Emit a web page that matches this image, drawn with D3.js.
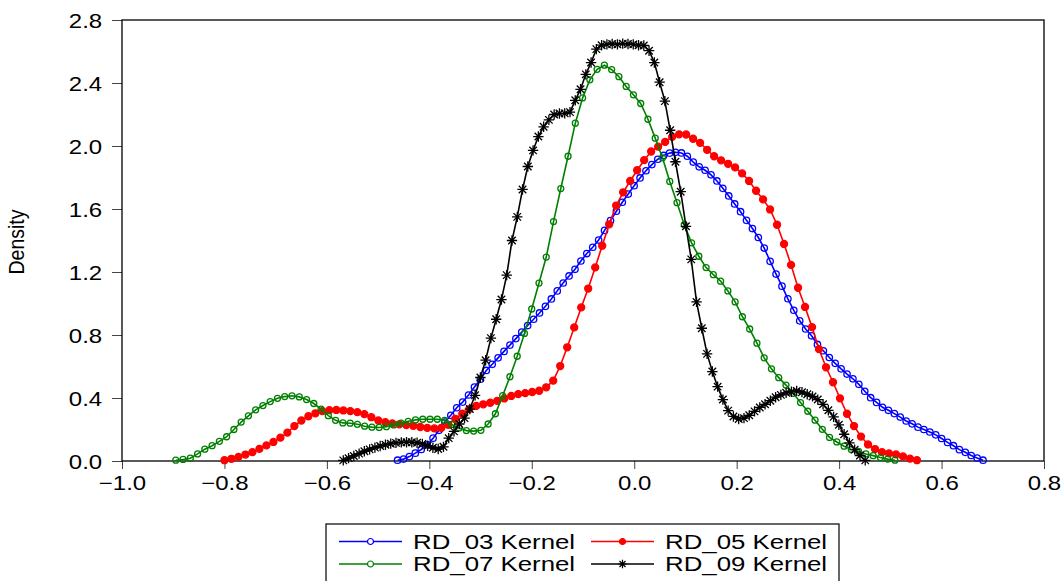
<!DOCTYPE html>
<meta charset="utf-8">
<head>
<style>
  body { margin: 0; background: #fff; }
  svg { display: block; font-family: "Liberation Sans", Arial, sans-serif; }
  .axis path { display: none; }
  .axis line { stroke: #444; }
  .axis text { font-size: 20px; fill: #000; }
  .legend text { font-size: 20.5px; fill: #000; }
</style>
<script src="https://d3js.org/d3.v7.min.js"></script>
</head>
<body>
<svg width="1063" height="581"></svg>
<script>
// kernel density estimates, 100 evaluation points each
var rd03Range = [-0.462, 0.681];
var rd03 = [0.005,0.012,0.028,0.050,0.073,0.102,0.145,0.195,0.247,0.290,
            0.338,0.374,0.419,0.470,0.519,0.575,0.614,0.655,0.696,0.736,
            0.777,0.818,0.860,0.900,0.940,0.982,1.029,1.080,1.130,1.175,
            1.217,1.270,1.317,1.357,1.403,1.464,1.526,1.586,1.643,1.695,
            1.748,1.797,1.843,1.882,1.916,1.940,1.955,1.960,1.956,1.935,
            1.898,1.868,1.846,1.817,1.778,1.731,1.683,1.632,1.583,1.528,
            1.476,1.419,1.352,1.268,1.187,1.110,1.030,0.957,0.890,0.838,
            0.795,0.740,0.700,0.657,0.620,0.585,0.552,0.522,0.487,0.443,
            0.402,0.372,0.341,0.322,0.301,0.279,0.254,0.236,0.215,0.200,
            0.184,0.166,0.143,0.118,0.097,0.072,0.055,0.035,0.019,0.005];

var rd05Range = [-0.800, 0.552];
var rd05 = [0.005,0.014,0.026,0.041,0.056,0.077,0.099,0.121,0.148,0.180,
            0.222,0.257,0.284,0.303,0.317,0.323,0.324,0.321,0.317,0.310,
            0.298,0.278,0.257,0.246,0.238,0.233,0.228,0.223,0.216,0.210,
            0.207,0.210,0.230,0.268,0.300,0.330,0.350,0.360,0.370,0.382,
            0.397,0.413,0.425,0.431,0.438,0.446,0.468,0.510,0.603,0.722,
            0.848,0.975,1.095,1.229,1.367,1.503,1.622,1.706,1.778,1.846,
            1.910,1.965,1.996,2.026,2.058,2.074,2.073,2.046,2.020,1.976,
            1.935,1.909,1.887,1.864,1.826,1.778,1.716,1.661,1.597,1.500,
            1.378,1.245,1.100,0.978,0.850,0.710,0.595,0.500,0.398,0.300,
            0.222,0.155,0.105,0.076,0.056,0.048,0.042,0.029,0.015,0.005];

var rd07Range = [-0.895, 0.509];
var rd07 = [0.005,0.010,0.018,0.045,0.075,0.097,0.125,0.154,0.200,0.247,
            0.287,0.325,0.352,0.377,0.398,0.409,0.414,0.407,0.390,0.365,
            0.330,0.288,0.258,0.242,0.240,0.233,0.221,0.215,0.213,0.218,
            0.229,0.241,0.252,0.261,0.265,0.265,0.265,0.258,0.232,0.210,
            0.193,0.190,0.195,0.235,0.300,0.415,0.535,0.665,0.810,0.965,
            1.130,1.295,1.520,1.730,1.935,2.145,2.305,2.420,2.487,2.513,
            2.485,2.440,2.378,2.325,2.270,2.170,2.050,1.925,1.775,1.640,
            1.500,1.385,1.300,1.228,1.183,1.142,1.080,1.010,0.916,0.838,
            0.748,0.655,0.585,0.529,0.482,0.430,0.371,0.316,0.259,0.201,
            0.150,0.121,0.094,0.073,0.061,0.045,0.034,0.022,0.012,0.005];

var rd09Range = [-0.568, 0.451];
var rd09 = [0.004,0.018,0.032,0.047,0.062,0.074,0.085,0.095,0.103,0.110,
            0.115,0.118,0.119,0.119,0.116,0.109,0.097,0.084,0.076,0.090,
            0.145,0.188,0.235,0.272,0.330,0.417,0.530,0.640,0.780,0.900,
            1.025,1.180,1.400,1.550,1.724,1.870,1.972,2.060,2.122,2.166,
            2.200,2.206,2.207,2.215,2.290,2.360,2.455,2.530,2.615,2.640,
            2.645,2.648,2.645,2.650,2.648,2.645,2.640,2.638,2.605,2.530,
            2.405,2.285,2.100,1.900,1.710,1.490,1.280,1.010,0.843,0.680,
            0.568,0.472,0.390,0.320,0.283,0.267,0.272,0.290,0.315,0.340,
            0.360,0.383,0.405,0.420,0.433,0.440,0.445,0.437,0.424,0.410,
            0.390,0.360,0.322,0.280,0.230,0.170,0.115,0.072,0.035,0.004];

var seriesNames = ["RD_03 Kernel", "RD_05 Kernel", "RD_07 Kernel", "RD_09 Kernel"];
var seriesColors = ["#0000ff", "#ff0000", "#008000", "#000000"];
var xTicks = [-1.0, -0.8, -0.6, -0.4, -0.2, 0.0, 0.2, 0.4, 0.6, 0.8];
var yTicks = [0.0, 0.4, 0.8, 1.2, 1.6, 2.0, 2.4, 2.8];

var sx = 1.2; // text in the original is drawn wide

var svg = d3.select("svg");
var plot = {left: 122, right: 1044, top: 20, bottom: 461};

var x = d3.scaleLinear().domain([-1.0, 0.8]).range([plot.left, plot.right]);
var y = d3.scaleLinear().domain([0, 2.8]).range([plot.bottom, plot.top]);

function grid(range, vals) {
    var step = (range[1] - range[0]) / (vals.length - 1);
    return vals.map(function(v, i) { return [range[0] + i * step, v]; });
}

var series = [
    {name: seriesNames[0], color: seriesColors[0], marker: "open",   r: 3.2, pts: grid(rd03Range, rd03)},
    {name: seriesNames[1], color: seriesColors[1], marker: "filled", r: 3.5, pts: grid(rd05Range, rd05)},
    {name: seriesNames[2], color: seriesColors[2], marker: "open",   r: 3.0, pts: grid(rd07Range, rd07)},
    {name: seriesNames[3], color: seriesColors[3], marker: "star",   r: 5.2, pts: grid(rd09Range, rd09)}
];

// axes
var yAxis = svg.append("g")
    .attr("class", "axis")
    .attr("transform", "translate(" + plot.left + ",0)")
    .call(d3.axisLeft(y).tickValues(yTicks).tickSize(10).tickPadding(6.5)
        .tickFormat(d3.format(".1f")));
yAxis.selectAll("text")
    .attr("transform", "scale(" + sx + ",1)")
    .attr("dy", "0.36em");

var xAxis = svg.append("g")
    .attr("class", "axis")
    .attr("transform", "translate(0," + plot.bottom + ")")
    .call(d3.axisBottom(x).tickValues(xTicks).tickSize(8).tickPadding(7)
        .tickFormat(d3.format(".1f")));
xAxis.selectAll("text")
    .attr("transform", "scale(" + sx + ",1)");

// frame
svg.append("rect")
    .attr("x", plot.left)
    .attr("y", plot.top)
    .attr("width", plot.right - plot.left)
    .attr("height", plot.bottom - plot.top)
    .attr("fill", "none")
    .attr("stroke", "#000")
    .attr("stroke-width", 1.3);

svg.append("text")
    .attr("transform", "translate(24,242) rotate(-90) scale(1,1.1)")
    .attr("text-anchor", "middle")
    .style("font-size", "19.5px")
    .text("Density");

var line = d3.line()
    .x(function(d) { return x(d[0]); })
    .y(function(d) { return y(d[1]); });

var starPath = function(r) {
    var a = r * 0.72;
    return "M0," + (-r) + "V" + r + "M" + (-r) + ",0H" + r +
        "M" + (-a) + "," + (-a) + "L" + a + "," + a +
        "M" + (-a) + "," + a + "L" + a + "," + (-a);
};

function drawMarkers(g, s, pts) {
    if (s.marker == "star") {
        g.selectAll("path.m")
            .data(pts)
            .enter().append("path")
            .attr("class", "m")
            .attr("transform", function(d) { return "translate(" + x(d[0]) + "," + y(d[1]) + ")"; })
            .attr("d", starPath(s.r))
            .attr("stroke", s.color)
            .attr("stroke-width", 1.3)
            .attr("fill", "none");
    } else {
        g.selectAll("circle")
            .data(pts)
            .enter().append("circle")
            .attr("cx", function(d) { return x(d[0]); })
            .attr("cy", function(d) { return y(d[1]); })
            .attr("r", s.r)
            .attr("fill", s.marker == "filled" ? s.color : "none")
            .attr("stroke", s.color)
            .attr("stroke-width", 1.3);
    }
}

series.forEach(function(s) {
    var g = svg.append("g");
    g.append("path")
        .datum(s.pts)
        .attr("d", line)
        .attr("fill", "none")
        .attr("stroke", s.color)
        .attr("stroke-width", 1.6);
    drawMarkers(g, s, s.pts);
});

// legend
var legend = svg.append("g").attr("class", "legend");
legend.append("rect")
    .attr("x", 326)
    .attr("y", 524)
    .attr("width", 513)
    .attr("height", 70)
    .attr("fill", "none")
    .attr("stroke", "#000")
    .attr("stroke-width", 1.2);

var legendPos = [[339, 541.5], [591, 541.5], [339, 564], [591, 564]];
series.forEach(function(s, i) {
    var p = legendPos[i];
    var item = legend.append("g").attr("transform", "translate(" + p[0] + "," + p[1] + ")");
    item.append("line")
        .attr("x1", 0).attr("x2", 63)
        .attr("stroke", s.color)
        .attr("stroke-width", 1.6);
    var mg = item.append("g").attr("transform", "translate(31.5,0)");
    if (s.marker == "star") {
        mg.append("path").attr("d", starPath(4.2)).attr("stroke", s.color)
            .attr("stroke-width", 1.2).attr("fill", "none");
    } else {
        mg.append("circle").attr("r", 3)
            .attr("fill", s.marker == "filled" ? s.color : "#fff")
            .attr("stroke", s.color).attr("stroke-width", 1.2);
    }
    item.append("text")
        .attr("transform", "translate(74,0) scale(1.26,1)")
        .attr("dy", "0.36em")
        .text(s.name);
});
</script>
</body>
